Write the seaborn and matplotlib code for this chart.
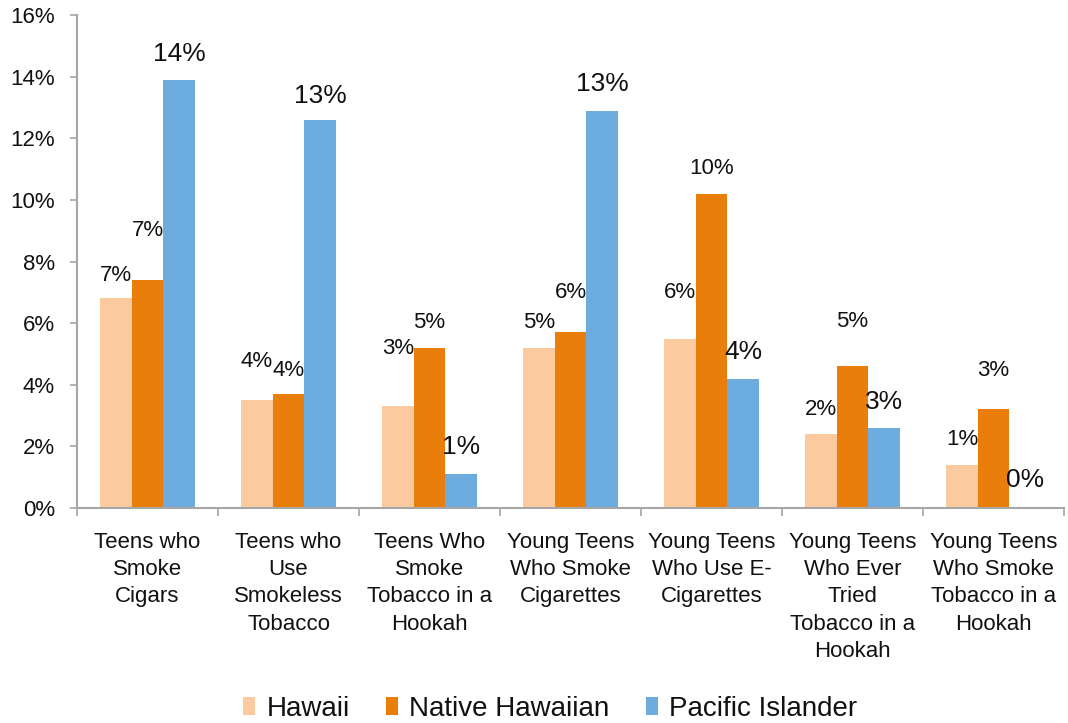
import matplotlib
matplotlib.use("Agg")
import matplotlib.pyplot as plt
import matplotlib.ticker as mticker
import seaborn as sns
import pandas as pd

# ---- data ----
categories = [
    "Teens who\nSmoke\nCigars",
    "Teens who\nUse\nSmokeless\nTobacco",
    "Teens Who\nSmoke\nTobacco in a\nHookah",
    "Young Teens\nWho Smoke\nCigarettes",
    "Young Teens\nWho Use E-\nCigarettes",
    "Young Teens\nWho Ever\nTried\nTobacco in a\nHookah",
    "Young Teens\nWho Smoke\nTobacco in a\nHookah",
]
series_names = ["Hawaii", "Native Hawaiian", "Pacific Islander"]
hawaii = [6.8, 3.5, 3.3, 5.2, 5.5, 2.4, 1.4]
native_hawaiian = [7.4, 3.7, 5.2, 5.7, 10.2, 4.6, 3.2]
pacific_islander = [13.9, 12.6, 1.1, 12.9, 4.2, 2.6, 0.0]
y_ticks = [0, 2, 4, 6, 8, 10, 12, 14, 16]

# ---- styling ----
colors = {"Hawaii": "#FBCB9F", "Native Hawaiian": "#E97E0A", "Pacific Islander": "#6DACDE"}
# label offsets above bar tops (pixels) to mimic the original placement
label_offsets_px = {
    "Hawaii": [23, 39, 58, 25, 46, 25, 25],
    "Native Hawaiian": [49, 23, 25, 40, 25, 45, 39],
    "Pacific Islander": [26, 24, 27, 27, 27, 26, 28],
}
label_sizes = {"Hawaii": 16, "Native Hawaiian": 16, "Pacific Islander": 19}

sns.set_theme(style="white")
plt.rcParams["font.family"] = ["Liberation Sans", "DejaVu Sans"]

rows = []
for name, vals in zip(series_names, [hawaii, native_hawaiian, pacific_islander]):
    for c, v in zip(categories, vals):
        rows.append({"Category": c, "Group": name, "Value": v})
df = pd.DataFrame(rows)

W, H = 1068, 723
fig = plt.figure(figsize=(W / 100, H / 100), dpi=100)
ax = fig.add_axes([77 / W, 1 - 508 / H, (1064 - 77) / W, (508 - 15) / H])

sns.barplot(data=df, x="Category", y="Value", hue="Group", order=categories,
            hue_order=series_names, palette=colors, width=0.67, gap=0,
            saturation=1, ax=ax, errorbar=None, linewidth=0)

ax.set_ylim(0, 16)
ax.set_xlim(-0.5, len(categories) - 0.5)
ax.set_yticks(y_ticks)
ax.yaxis.set_major_formatter(mticker.FuncFormatter(lambda v, p: f"{v:.0f}%"))
ax.set_xlabel("")
ax.set_ylabel("")

for s in ["top", "right"]:
    ax.spines[s].set_visible(False)
for s in ["left", "bottom"]:
    ax.spines[s].set_color("#A6A6A6")
    ax.spines[s].set_linewidth(1.5)

ax.tick_params(axis="y", which="major", left=True, length=5, width=1.2,
               color="#A6A6A6", labelsize=16, pad=11, labelcolor="#111111")
ax.tick_params(axis="x", which="major", bottom=False, length=0, labelsize=16,
               pad=17, labelcolor="#111111")
ax.set_xticks([i - 0.5 for i in range(len(categories) + 1)], minor=True)
ax.tick_params(axis="x", which="minor", bottom=True, length=6, width=1.2,
               color="#A6A6A6")
for lbl in ax.get_xticklabels():
    lbl.set_linespacing(1.4)

# data labels
for name, cont in zip(series_names, ax.containers):
    vals = {"Hawaii": hawaii, "Native Hawaiian": native_hawaiian,
            "Pacific Islander": pacific_islander}[name]
    for i, bar in enumerate(cont):
        v = vals[i]
        ax.annotate(f"{int(v + 0.5)}%",
                    xy=(bar.get_x() + bar.get_width() / 2, bar.get_height()),
                    xytext=(0, label_offsets_px[name][i] * 0.72),
                    textcoords="offset points", ha="center", va="center",
                    fontsize=label_sizes[name], color="#111111",
                    annotation_clip=False)

handles, labels = ax.get_legend_handles_labels()
if ax.legend_ is not None:
    ax.legend_.remove()
fig.legend(handles, labels, loc="center", bbox_to_anchor=(550 / W, 1 - 709 / H),
           ncol=3, frameon=False, fontsize=20, handlelength=0.45,
           handleheight=0.6, handletextpad=0.4, columnspacing=1.3,
           labelcolor="#111111")

fig.savefig("out.png", dpi=100)
